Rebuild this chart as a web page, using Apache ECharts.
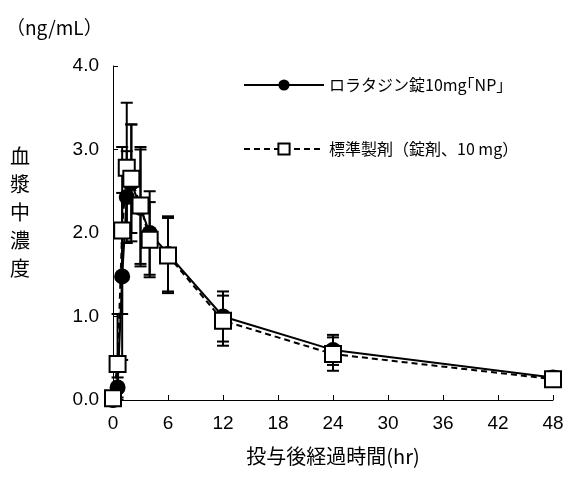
<!DOCTYPE html>
<html><head><meta charset="utf-8">
<script src="https://cdn.jsdelivr.net/npm/echarts@6/dist/echarts.min.js"></script>
<style>body{margin:0}#c{width:568px;height:481px}</style></head>
<body><div id="c"></div>
<script>
const times = [0, 0.5, 1, 1.5, 2, 3, 4, 6, 12, 24, 48];
const testMean = [0, 0.15, 1.48, 2.43, 2.6, 2.3, 2.0, 1.75, 1.0, 0.6, 0.27];
const testSd = [0, 0.12, 1.0, 0.55, 0.7, 0.7, 0.5, 0.45, 0.3, 0.18, 0.07];
const refMean = [0.02, 0.43, 2.03, 2.78, 2.65, 2.33, 1.92, 1.73, 0.95, 0.55, 0.25];
const refSd = [0, 0.6, 1.0, 0.78, 0.65, 0.7, 0.45, 0.45, 0.3, 0.2, 0.07];
const names = ['ロラタジン錠10mg｢NP｣', '標準製剤（錠剤、10 mg）'];

function errData(mean, sd) {
  return times.map((t, i) => [t, mean[i] - sd[i], mean[i] + sd[i]]);
}
function errSeries(mean, sd) {
  return {
    type: 'custom', silent: true, z: 1,
    data: errData(mean, sd),
    renderItem(params, api) {
      const x = api.value(0);
      const lo = api.coord([x, Math.max(0, api.value(1))]);
      const hi = api.coord([x, api.value(2)]);
      const w = 6;
      const st = { stroke: '#000', lineWidth: 2 };
      return { type: 'group', children: [
        { type: 'line', shape: { x1: lo[0], y1: lo[1], x2: hi[0], y2: hi[1] }, style: st },
        { type: 'line', shape: { x1: hi[0] - w, y1: hi[1], x2: hi[0] + w, y2: hi[1] }, style: st },
        { type: 'line', shape: { x1: lo[0] - w, y1: lo[1], x2: lo[0] + w, y2: lo[1] }, style: st }
      ] };
    }
  };
}
const font = '"Noto Sans CJK JP", sans-serif';
const numFont = '"Liberation Sans", Arial, sans-serif';
const chart = echarts.init(document.getElementById('c'));
chart.setOption({
  animation: false,
  textStyle: { fontFamily: font, color: '#000' },
  grid: { left: 113, right: 15, top: 66, bottom: 81, containLabel: false, outerBoundsMode: 'none' },
  legend: [
    { data: [names[0]], left: 238, top: 72, itemWidth: 80, itemHeight: 14, textStyle: { fontSize: 16, fontFamily: font, color: '#000' } },
    { data: [names[1]], left: 238, top: 136, itemWidth: 80, itemHeight: 14, textStyle: { fontSize: 16, fontFamily: font, color: '#000' } }
  ],
  graphic: [
    { type: 'text', left: 6, top: 18, style: { text: '（ng/mL）', fontSize: 19, fontFamily: font } },
    { type: 'text', left: 10, top: 142, style: { text: '血\n漿\n中\n濃\n度', fontSize: 20, lineHeight: 28, fontFamily: font } }
  ],
  xAxis: {
    type: 'value', min: 0, max: 48, interval: 6,
    name: '投与後経過時間(hr)', nameLocation: 'middle', nameGap: 46,
    nameTextStyle: { fontSize: 20, fontFamily: font, color: '#000' },
    axisLine: { lineStyle: { color: '#000' } },
    axisTick: { inside: true, length: 5, lineStyle: { color: '#000' } },
    axisLabel: { fontSize: 19, color: '#000', margin: 14, fontFamily: numFont },
    splitLine: { show: false }
  },
  yAxis: {
    type: 'value', min: 0, max: 4, interval: 1,
    axisLine: { show: true, lineStyle: { color: '#000' } },
    axisTick: { show: true, inside: true, length: 5, lineStyle: { color: '#000' } },
    axisLabel: { fontSize: 19, color: '#000', margin: 14, fontFamily: numFont, formatter: v => v.toFixed(1) },
    splitLine: { show: false }
  },
  series: [
    errSeries(testMean, testSd),
    errSeries(refMean, refSd),
    {
      name: names[0], type: 'line', z: 3,
      data: times.map((t, i) => [t, testMean[i]]),
      symbol: 'circle', symbolSize: 16,
      itemStyle: { color: '#000' },
      lineStyle: { color: '#000', width: 2 }
    },
    {
      name: names[1], type: 'line', z: 4,
      data: times.map((t, i) => [t, refMean[i]]),
      symbol: 'rect', symbolSize: 16,
      itemStyle: { color: '#fff', borderColor: '#000', borderWidth: 2 },
      lineStyle: { color: '#000', width: 2, type: [6, 4] }
    }
  ]
});
</script></body></html>
